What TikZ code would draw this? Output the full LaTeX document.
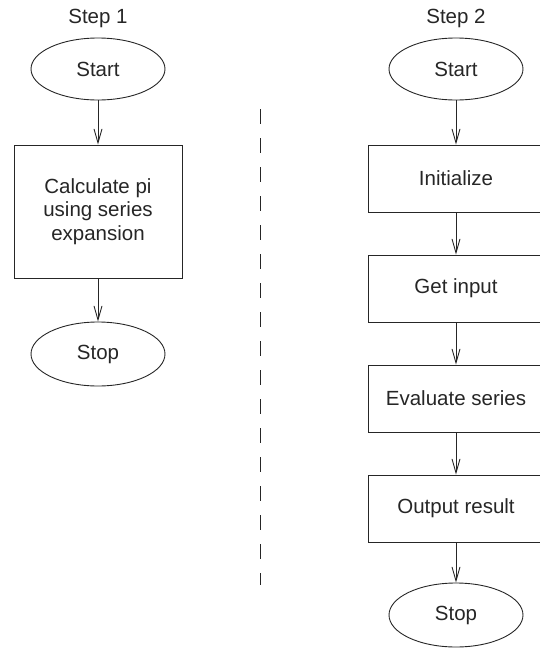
\documentclass[tikz,border=0pt]{standalone}
\usepackage{fontspec}
\setmainfont{Liberation Sans}
\usetikzlibrary{arrows.meta,shapes.geometric}
\tikzset{
  term/.style={draw, ellipse, minimum width=134pt, minimum height=62pt, inner sep=0pt},
  procbox/.style={draw, rectangle, minimum width=176pt, minimum height=67pt, inner sep=0pt, align=center},
  flow/.style={-{Straight Barb[length=14pt,width=8pt]}}}

\begin{document}
\begin{tikzpicture}[x=1pt, y=-1pt, line width=0.9pt, draw=black!85, text=black!85,
    font=\fontsize{20.5}{23.5}\selectfont]
  \useasboundingbox (0,0) rectangle (540,648);
  % step 1, one block
  \node (step1) at (98,18) {Step 1};
  \node[term] (start1) at (98,69) {Start};
  \node[procbox, minimum width=168pt, minimum height=133pt] (calc) at (98,211.5)
    {Calculate pi\\using series\\expansion};
  \node[term, minimum height=64pt] (stop1) at (98,354) {Stop};
  \draw[flow] (start1) -- (calc);
  \draw[flow] (calc) -- (stop1);
  % divider
  \draw[dash pattern=on 14.5pt off 14.5pt] (260,109) -- (260,585);
  % step 2, refined blocks
  \node (step2) at (456,18) {Step 2};
  \node[term] (start2) at (456,69) {Start};
  \node[procbox] (init) at (456,178.5) {Initialize};
  \node[procbox] (input) at (456,288.5) {Get input};
  \node[procbox] (eval) at (456,398.5) {Evaluate series};
  \node[procbox] (output) at (456,508.5) {Output result};
  \node[term, minimum height=64pt] (stop2) at (456,615) {Stop};
  \draw[flow] (start2) -- (init);
  \draw[flow] (init) -- (input);
  \draw[flow] (input) -- (eval);
  \draw[flow] (eval) -- (output);
  \draw[flow] (output) -- (stop2);
\end{tikzpicture}
\end{document}
